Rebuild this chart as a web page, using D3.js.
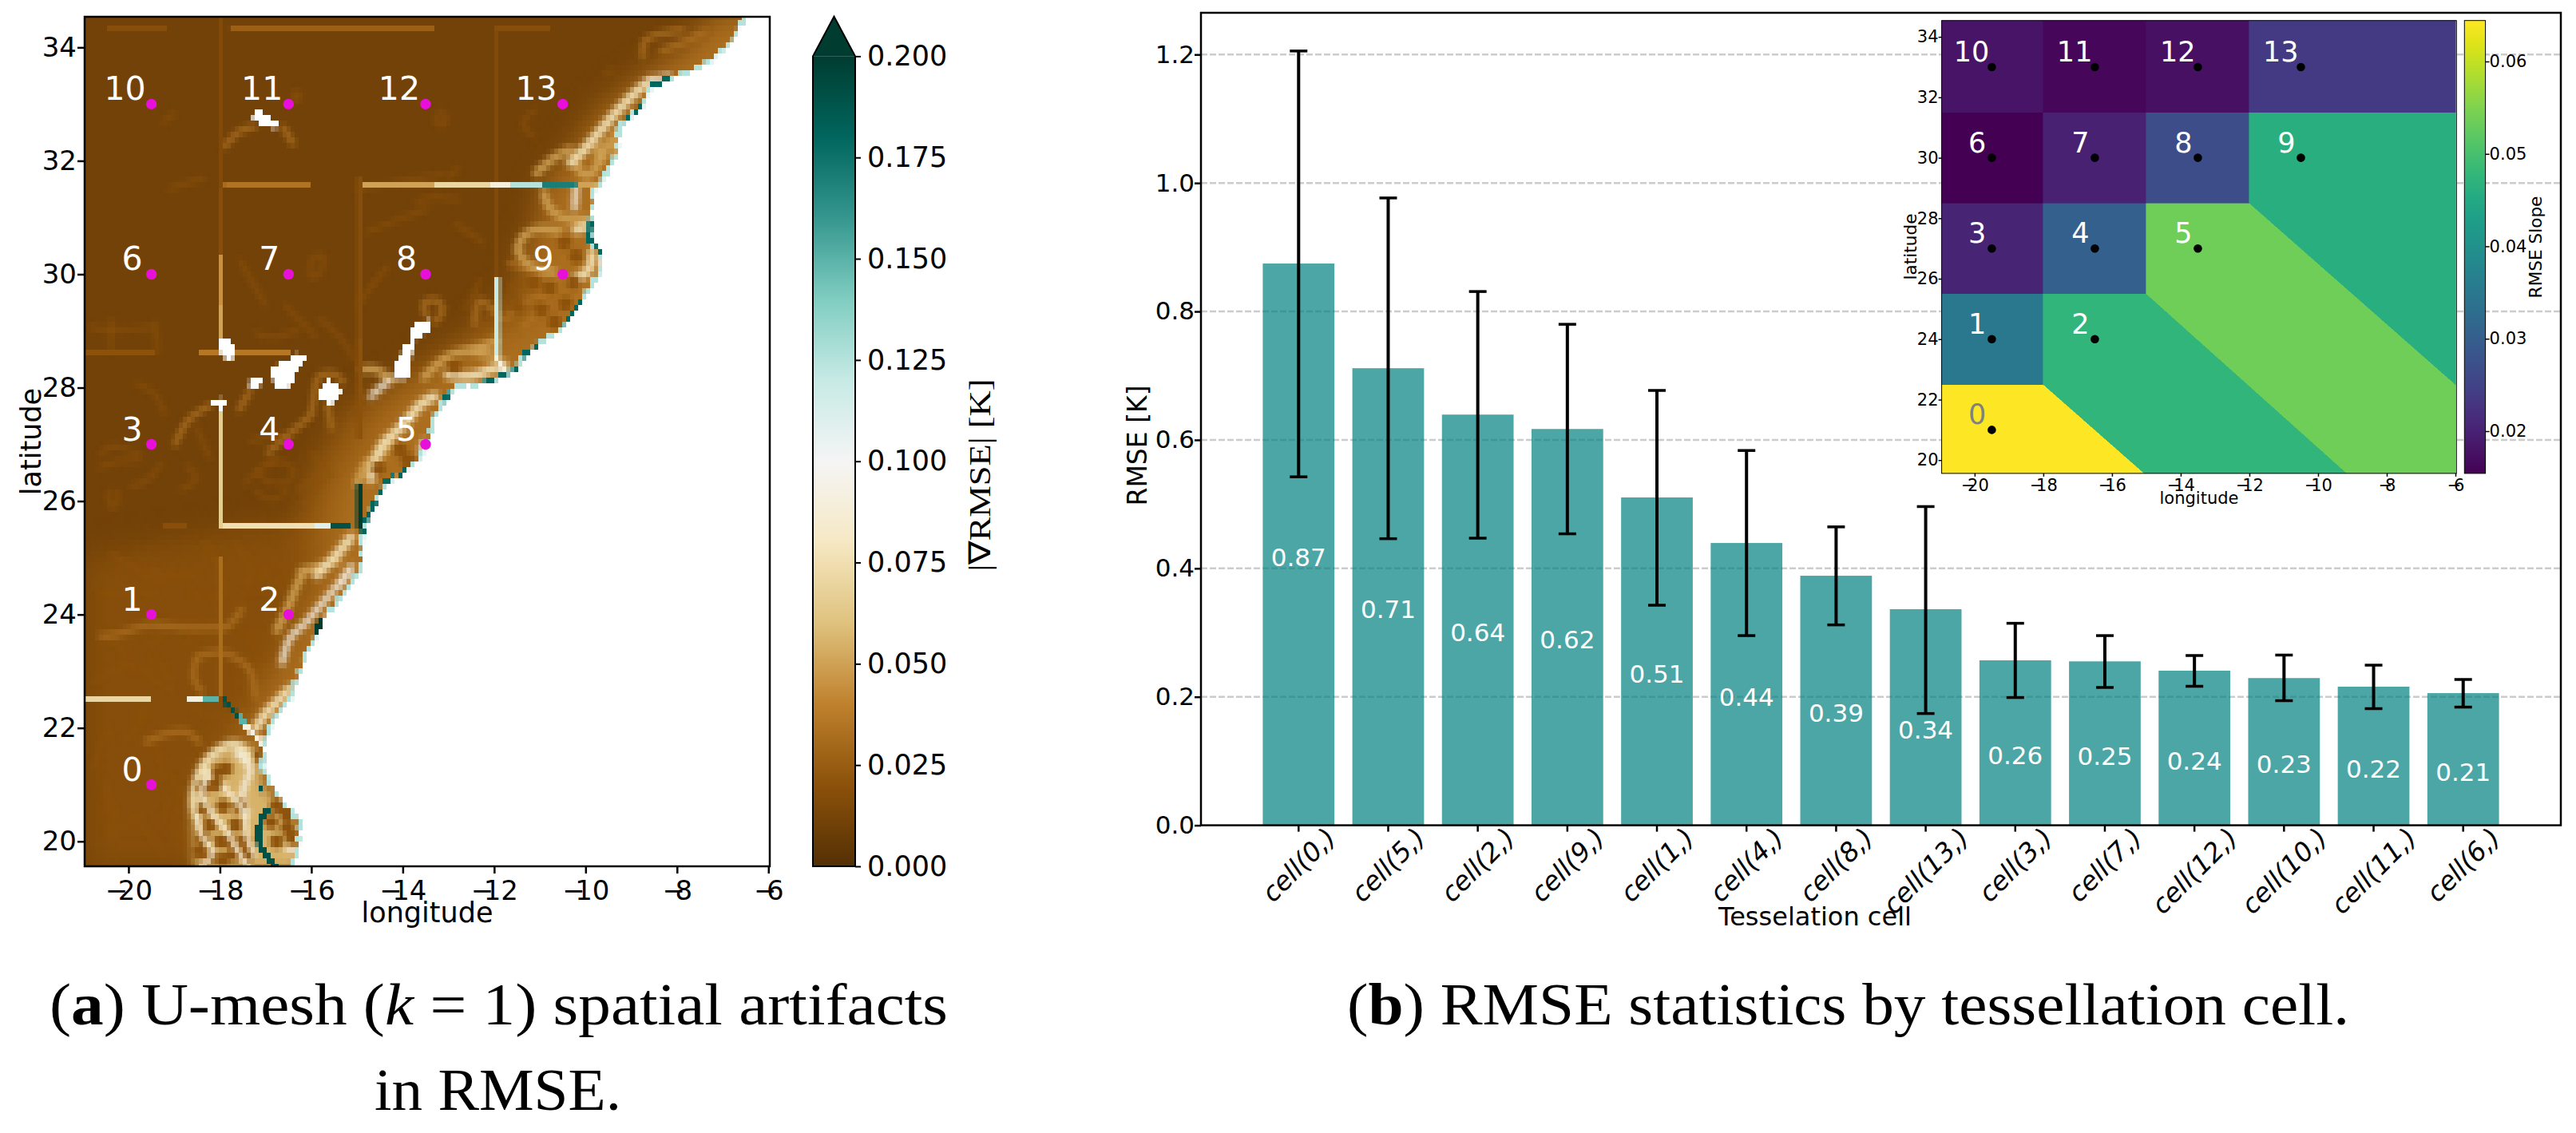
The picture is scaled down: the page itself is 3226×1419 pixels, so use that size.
<!DOCTYPE html>
<html>
<head>
<meta charset="utf-8">
<script src="https://cdn.jsdelivr.net/npm/d3@7"></script>
<style>
  body { margin: 0; background: white; }
  text { font-family: "DejaVu Sans"; fill: black; }
  .caption { font-family: "Liberation Serif"; font-size: 74px; }
</style>
</head>
<body>
<svg id="chart" width="3226" height="1419"></svg>
<script>
// ---- panel (b) values
const cell_order = [0, 5, 2, 9, 1, 4, 8, 13, 3, 7, 12, 10, 11, 6]
const rmse_values = [0.8746, 0.7116, 0.6394, 0.617, 0.5104, 0.4395, 0.3885, 0.3364, 0.2568, 0.2552, 0.2407, 0.2292, 0.2158, 0.2058]
const rmse_labels = ["0.87", "0.71", "0.64", "0.62", "0.51", "0.44", "0.39", "0.34", "0.26", "0.25", "0.24", "0.23", "0.22", "0.21"]
const err_high = [1.2055, 0.9767, 0.831, 0.78, 0.677, 0.5835, 0.4646, 0.4962, 0.3145, 0.2953, 0.2643, 0.265, 0.2493, 0.227]
const err_low = [0.5425, 0.4462, 0.447, 0.4538, 0.3426, 0.2953, 0.312, 0.174, 0.1989, 0.2146, 0.2164, 0.194, 0.1816, 0.184]
const rmse_ticks = [0, 0.2, 0.4, 0.6, 0.8, 1.0, 1.2]

// ---- tessellation cell centres (lon, lat), index = cell id
const cell_lon = [-19.5, -19.5, -16.5, -19.5, -16.5, -13.5, -19.5, -16.5, -13.5, -10.5, -19.5, -16.5, -13.5, -10.5]
const cell_lat = [21, 24, 24, 27, 27, 27, 30, 30, 30, 30, 33, 33, 33, 33]
const lon_ticks = [-20, -18, -16, -14, -12, -10, -8, -6]
const lat_ticks = [20, 22, 24, 26, 28, 30, 32, 34]

// ---- inset: RMSE slope per cell and the cell outlines
const cell_slope = [0.0644, 0.0351, 0.0474, 0.0204, 0.0302, 0.0537, 0.0155, 0.0199, 0.0268, 0.0463, 0.018, 0.0162, 0.0175, 0.0238]
const cell_shapes = [
  [[-21, 19.5], [-21, 22.5], [-18, 22.5], [-15, 19.5]],
  [[-21, 22.5], [-21, 25.5], [-18, 25.5], [-18, 22.5]],
  [[-18, 22.5], [-18, 25.5], [-15, 25.5], [-9.1, 19.5], [-15, 19.5]],
  [[-21, 25.5], [-21, 28.5], [-18, 28.5], [-18, 25.5]],
  [[-18, 25.5], [-18, 28.5], [-15, 28.5], [-15, 25.5]],
  [[-15, 25.5], [-15, 28.5], [-12, 28.5], [-6, 22.5], [-6, 19.5], [-9.1, 19.5]],
  [[-21, 28.5], [-21, 31.5], [-18, 31.5], [-18, 28.5]],
  [[-18, 28.5], [-18, 31.5], [-15, 31.5], [-15, 28.5]],
  [[-15, 28.5], [-15, 31.5], [-12, 31.5], [-12, 28.5]],
  [[-12, 28.5], [-12, 31.5], [-6, 31.5], [-6, 22.5]],
  [[-21, 31.5], [-21, 34.6], [-18, 34.6], [-18, 31.5]],
  [[-18, 31.5], [-18, 34.6], [-15, 34.6], [-15, 31.5]],
  [[-15, 31.5], [-15, 34.6], [-12, 34.6], [-12, 31.5]],
  [[-12, 31.5], [-12, 34.6], [-6, 34.6], [-6, 31.5]]
]

// ---- panel (a) colour bar
const grad_ticks = [0, 0.025, 0.05, 0.075, 0.1, 0.125, 0.15, 0.175, 0.2]
const brbg_stops = ["#543005", "#8c510a", "#bf812d", "#dfc27d", "#f6e8c3", "#f5f5f5", "#c7eae5", "#80cdc1", "#35978f", "#01665e", "#003c30"]
const brbg_values = [0, 0.02, 0.04, 0.06, 0.08, 0.1, 0.12, 0.14, 0.16, 0.18, 0.2]
const slope_ticks = [0.02, 0.03, 0.04, 0.05, 0.06]

const background_value = 0.011
const coast_line = [[-6.5, 34.55], [-6.76, 34.17], [-7.0, 33.94], [-7.52, 33.63], [-8.17, 33.47], [-8.58, 33.3], [-8.75, 33.0], [-9.28, 32.6], [-9.31, 32.15], [-9.68, 31.59], [-9.83, 31.45], [-9.89, 30.98], [-9.92, 30.6], [-9.66, 30.37], [-9.71, 30.04], [-10.09, 29.55], [-10.5, 29.07], [-11.03, 28.79], [-11.38, 28.55], [-11.49, 28.37], [-11.79, 28.23], [-12.2, 28.09], [-12.9, 27.99], [-13.13, 27.76], [-13.3, 27.52], [-13.42, 27.15], [-13.6, 26.82], [-13.89, 26.56], [-14.35, 26.35], [-14.59, 26.02], [-14.82, 25.64], [-14.89, 25.41], [-14.91, 24.85], [-15.24, 24.42], [-15.59, 24.09], [-15.77, 23.93], [-16.0, 23.48], [-16.18, 23.18], [-16.35, 22.83], [-16.47, 22.5], [-16.76, 22.26], [-16.93, 21.98], [-17.02, 21.75], [-17.08, 21.28], [-16.93, 21.04], [-16.61, 20.67], [-16.26, 20.34], [-16.29, 19.92], [-16.41, 19.5]]
const land_corners = [[-5.9, 19.5], [-5.9, 34.6], [-6.5, 34.6]]
const coast_dark = [
  [[-13.89, 26.56], [-14.35, 26.35], [-14.59, 26.02], [-14.82, 25.64], [-14.89, 25.41]],
  [[-9.89, 30.98], [-9.92, 30.6], [-9.66, 30.37]],
  [[-12.2, 28.09], [-11.79, 28.23], [-11.49, 28.37]],
  [[-11.38, 28.55], [-11.03, 28.79]],
  [[-8.58, 33.3], [-8.17, 33.47]],
  [[-8.75, 33.0], [-9.28, 32.6]],
  [[-10.09, 29.55], [-10.5, 29.07]],
  [[-13.13, 27.76], [-12.9, 27.99]]
]

const zone_values = [0.018, 0.024, 0.032]
const zone_shapes = [
  [[-21, 19.5], [-21, 25], [-17, 25.6], [-15, 25.6], [-15, 24], [-17, 21], [-16.4, 19.5]],
  [[-18.6, 19.5], [-18.4, 21], [-17.9, 21.8], [-17.2, 22.6], [-16.7, 23.5], [-16.0, 24.6], [-16.3, 25.4], [-16, 26.5], [-15.2, 27.6], [-13.6, 28.4], [-12.6, 28.9], [-11.6, 29.6], [-11.4, 30.4], [-11.0, 31.0], [-11.0, 31.55], [-10.4, 32.1], [-9.8, 32.9], [-8.8, 33.5], [-7.8, 34.0], [-7.2, 34.6], [-5.9, 34.6], [-5.9, 19.5]],
  [[-17.6, 21.7], [-17.0, 22.6], [-16.5, 23.3], [-16.0, 24.3], [-15.6, 25.0], [-15.6, 25.6], [-15.3, 26.4], [-14.8, 27.0], [-14.3, 27.7], [-13.6, 28.1], [-12.9, 28.5], [-12.0, 28.85], [-11.2, 29.2], [-10.9, 29.6], [-11.2, 30.4], [-10.9, 30.9], [-10.9, 31.5], [-10.4, 31.9], [-9.9, 32.4], [-9.3, 33.0], [-8.6, 33.5], [-7.9, 33.9], [-7.1, 34.6], [-5.9, 34.6], [-5.9, 21.7]]
]
const mesh_value = 0.055
const mesh_zone = [[-18.55, 19.5], [-18.6, 20.6], [-18.4, 21.3], [-18.0, 21.6], [-17.5, 21.7], [-17.1, 21.6], [-17.07, 21.0], [-16.3, 20.3], [-16.3, 19.5]]

const veins_faint = [
  [[-20.5, 20.53], [-20.44, 20.76], [-20.5, 21.09]],
  [[-19.56, 23.48], [-19.33, 23.58], [-19.21, 23.86]],
  [[-20.79, 22.78], [-20.38, 23.01], [-19.85, 23.11]],
  [[-19.85, 22.22], [-19.56, 22.31], [-20.09, 21.79]],
  [[-19.15, 22.87], [-19.27, 23.11], [-19.5, 23.2]],
  [[-20.38, 20.06], [-20.09, 20.29], [-19.68, 20.48]],
  [[-19.1, 21.14], [-18.86, 20.85], [-18.98, 20.48], [-18.86, 19.92]],
  [[-18.63, 24.38], [-18.22, 24.28], [-17.93, 24.42]],
  [[-20.61, 24.33], [-20.09, 24.42], [-19.33, 24.38]],
  [[-19.56, 24.8], [-18.92, 24.66], [-18.45, 24.8]],
  [[-17.34, 24.52], [-17.11, 24.7], [-16.76, 24.89]],
  [[-17.46, 23.67], [-17.23, 23.39], [-17.34, 23.11]],
  [[-16.88, 25.03], [-16.53, 24.75], [-16.76, 24.52]],
  [[-17.69, 25.27], [-17.34, 24.8], [-17.46, 24.33]],
  [[-20.61, 26.82], [-20.38, 26.96], [-19.74, 26.82]],
  [[-18.86, 26.2], [-18.51, 26.39], [-18.74, 26.63]],
  [[-17.23, 26.2], [-16.88, 26.02], [-16.53, 26.2]],
  [[-16.18, 25.93], [-15.88, 26.2], [-15.6, 26.49]],
  [[-16.0, 26.86], [-15.53, 26.44]],
  [[-17.17, 26.49], [-16.88, 26.72], [-16.41, 26.58], [-16.5, 26.35], [-16.9, 26.33], [-17.17, 26.49]],
  [[-20.44, 26.2], [-20.38, 25.88], [-20.23, 25.97], [-20.26, 26.2]],
  [[-16.0, 30.28], [-15.75, 30.33], [-15.85, 29.98], [-16.0, 29.95], [-16.0, 30.28]],
  [[-16.4, 33.2], [-16.25, 33.2], [-16.35, 33.02], [-16.4, 33.2]],
  [[-15.0, 31.5], [-13.1, 31.76]],
  [[-13.44, 31.17], [-14.78, 30.74]],
  [[-15, 29.45], [-14.33, 30.15]],
  [[-18.35, 31.7], [-19.13, 31.5]],
  [[-19.0, 32.84], [-19.25, 32.68]],
  [[-16.57, 29.45], [-15.9, 28.9]],
  [[-17.57, 30.26], [-17.0, 29.45]],
  [[-12.43, 29.63], [-12.31, 29.92]],
  [[-20.38, 21.98], [-20.61, 21.7], [-20.73, 21.28]],
  [[-19.39, 21.7], [-19.27, 21.32], [-19.45, 20.9]],
  [[-20.55, 20.85], [-20.32, 20.53], [-20.44, 20.15]],
  [[-19.8, 20.29], [-19.45, 20.06], [-19.21, 19.68]],
  [[-19.1, 20.76], [-19.27, 20.29]],
  [[-18.63, 22.36], [-18.22, 22.22], [-17.81, 22.17]],
  [[-19.62, 23.06], [-19.33, 22.78], [-19.04, 22.69]],
  [[-20.38, 23.53], [-20.09, 23.34], [-19.85, 23.01]],
  [[-18.74, 23.48], [-18.51, 23.67], [-18.1, 23.53]],
  [[-17.34, 23.77], [-16.99, 23.58], [-16.88, 23.25]],
  [[-17.69, 22.97], [-17.46, 22.64], [-17.4, 22.36]],
  [[-17.17, 24.42], [-16.76, 24.38]],
  [[-20.85, 29.07], [-20.38, 29.02], [-19.45, 29.07]],
  [[-20.38, 29.21], [-20.38, 28.65]],
  [[-19.42, 29.16], [-19.36, 28.6]],
  [[-19.85, 28.08], [-19.44, 27.9], [-19.21, 27.52]],
  [[-20.67, 26.58], [-20.32, 26.68], [-19.74, 26.72]],
  [[-19.97, 26.25], [-19.56, 26.39], [-19.27, 26.68]],
  [[-18.51, 27.3], [-18.22, 26.77]],
  [[-17.34, 27.05], [-16.88, 27.15], [-16.53, 27.15]],
  [[-17.46, 26.3], [-17.11, 26.58], [-16.76, 26.68]],
  [[-16.29, 26.2], [-15.82, 26.49]],
  [[-17.23, 28.98], [-16.88, 28.88], [-16.29, 29.02]],
  [[-15.82, 29.21], [-15.36, 28.88], [-15.07, 28.51]],
  [[-20.38, 25.08], [-19.8, 24.8], [-19.21, 24.52]],
  [[-18.34, 25.27], [-18.04, 24.89], [-17.87, 24.42]],
  [[-17.17, 24.8], [-16.88, 24.61], [-16.47, 24.7]],
  [[-13.19, 32.86], [-13.3, 32.72], [-13.13, 32.62], [-13.04, 32.77], [-13.19, 32.86]],
  [[-13.01, 31.69], [-12.78, 31.87]],
  [[-11.09, 32.9], [-11.38, 32.67], [-11.14, 32.44]],
  [[-9.6, 33.52], [-9.39, 33.61]],
  [[-13.71, 31.26], [-13.36, 31.36], [-12.78, 31.31]],
  [[-12.84, 30.89], [-12.25, 30.56]],
  [[-12.37, 29.76], [-12.66, 29.38]],
  [[-11.96, 29.24], [-11.73, 29.57], [-11.55, 29.9]]
]
const veins_mid = [
  [[-20.61, 23.62], [-20.26, 23.65], [-19.56, 23.81], [-18.8, 23.77], [-18.04, 23.77], [-17.87, 23.77], [-17.52, 24.09]],
  [[-18.51, 23.25], [-18.04, 23.34], [-17.69, 23.25], [-17.34, 23.01], [-17.23, 22.55]],
  [[-18.51, 23.25], [-18.57, 22.87], [-18.39, 22.64]],
  [[-19.62, 21.75], [-19.21, 21.89], [-18.74, 21.93], [-18.45, 21.75]],
  [[-15.65, 27.71], [-15.56, 27.29]],
  [[-18.98, 27.0], [-18.69, 27.43], [-18.22, 27.69]],
  [[-16.94, 26.86], [-16.47, 27.19], [-16.0, 27.52]],
  [[-17.9, 32.25], [-17.57, 32.52], [-17.24, 32.6]],
  [[-16.62, 32.6], [-16.4, 32.3]],
  [[-13.48, 29.26], [-13.54, 29.49], [-13.25, 29.54], [-13.13, 29.35], [-13.3, 29.16]],
  [[-17.58, 27.62], [-17.34, 27.94]],
  [[-16.0, 27.52], [-15.94, 27.85], [-15.85, 28.18], [-15.53, 28.25], [-15.3, 28.1]],
  [[-10.04, 29.76], [-10.39, 29.38], [-10.79, 29.0]],
  [[-8.34, 33.94], [-7.88, 34.08], [-7.41, 34.27]],
  [[-8.75, 33.84], [-8.69, 34.13], [-7.88, 34.31]],
  [[-11.38, 29.07], [-11.03, 29.35], [-10.8, 29.68]],
  [[-11.73, 29.21], [-11.38, 29.49], [-10.91, 29.63]],
  [[-11.67, 30.2], [-11.2, 30.06], [-10.56, 29.82]],
  [[-11.85, 29.21], [-12.31, 29.54], [-12.43, 29.12]]
]
const ridges = [
  [[-16.24, 24.75], [-15.83, 24.85], [-15.42, 24.94]],
  [[-16.76, 23.72], [-16.53, 24.09], [-16.29, 24.56], [-16.12, 24.8]],
  [[-13.54, 28.18], [-13.01, 28.55], [-12.37, 28.7], [-11.96, 28.81]],
  [[-12.55, 28.65], [-11.96, 28.55]],
  [[-14.88, 28.32], [-14.59, 28.32], [-14.24, 28.13]],
  [[-11.08, 31.78], [-10.68, 32.06], [-10.33, 32.2]],
  [[-9.98, 32.2], [-10.21, 31.97], [-9.98, 31.73], [-9.74, 31.92], [-9.74, 32.25]],
  [[-9.51, 32.34], [-9.63, 32.02]],
  [[-9.34, 32.48], [-9.34, 32.15]],
  [[-10.91, 31.45], [-10.79, 31.17], [-10.44, 30.98], [-9.98, 30.98]],
  [[-11.49, 30.42], [-11.38, 30.65], [-11.08, 30.79], [-10.56, 30.75]],
  [[-11.49, 30.42], [-11.26, 30.18], [-10.68, 30.04]],
  [[-15.0, 26.3], [-14.78, 26.68], [-14.48, 26.82], [-14.22, 27.05]]
]
const ridges_bright = [
  [[-17.23, 21.98], [-16.99, 22.26], [-16.7, 22.5], [-16.47, 22.69]],
  [[-15.88, 24.7], [-15.53, 24.98], [-15.13, 25.36]],
  [[-13.01, 28.23], [-12.54, 28.2], [-12.08, 28.32], [-11.79, 28.41]],
  [[-14.7, 26.39], [-14.47, 26.96], [-14.0, 27.33], [-13.6, 27.71], [-13.3, 27.85]],
  [[-10.33, 31.97], [-10.09, 32.15], [-9.68, 32.53], [-9.28, 32.9], [-8.87, 33.23], [-8.58, 33.42]],
  [[-10.21, 30.79], [-9.98, 30.84]],
  [[-9.86, 30.37], [-9.92, 30.09], [-10.27, 29.9]],
  [[-18.51, 20.48], [-18.57, 20.76], [-18.39, 21.28], [-18.04, 21.6], [-17.63, 21.7], [-17.34, 21.47]],
  [[-18.28, 21.23], [-17.93, 20.95]]
]
const ridges_pale = [
  [[-16.64, 23.15], [-16.47, 23.58], [-16.12, 23.86], [-15.77, 24.19], [-15.42, 24.52], [-15.12, 24.85]],
  [[-17.63, 21.56], [-17.34, 21.28], [-17.46, 20.99], [-17.52, 20.76], [-17.4, 20.48]],
  [[-15.13, 24.8], [-15.36, 24.52]],
  [[-14.7, 27.85], [-14.3, 28.13]],
  [[-13.54, 27.05], [-13.6, 26.86]],
  [[-8.58, 33.42], [-8.17, 33.49]],
  [[-10.21, 31.54], [-10.24, 31.17]],
  [[-16.29, 19.82], [-16.53, 19.87]]
]
const mesh_cells = [[-18.1, 21.0], [-17.93, 20.62], [-17.66, 20.29], [-18.34, 20.57], [-17.99, 20.0], [-18.39, 20.06], [-17.46, 20.0], [-18.22, 19.73], [-17.69, 19.77], [-16.88, 20.34], [-16.53, 20.24], [-16.76, 20.62], [-16.76, 20.0], [-17.11, 21.51], [-17.87, 21.28], [-17.58, 20.62], [-18.22, 20.29], [-17.78, 20.0], [-18.45, 19.82], [-17.93, 19.68], [-17.4, 19.77], [-16.53, 20.48], [-16.41, 20.06], [-18.04, 21.23], [-18.37, 20.95], [-10.21, 30.32], [-10.47, 30.56], [-10.27, 29.86], [-10.79, 29.76], [-11.14, 29.86], [-11.49, 29.43], [-10.97, 29.38], [-10.68, 29.15], [-10.44, 29.48], [-14.06, 26.91], [-13.89, 26.72], [-14.53, 26.58], [-12.87, 28.37]]
const mesh_ridges = [
  [[-18.51, 20.48], [-18.4, 20.1], [-18.16, 19.82], [-18.45, 19.5]],
  [[-18.22, 21.23], [-18.4, 20.85], [-18.16, 20.48], [-17.87, 20.2], [-17.64, 19.87], [-17.34, 19.5]],
  [[-17.93, 20.95], [-17.69, 20.76], [-17.46, 20.48], [-17.4, 20.06], [-17.23, 19.73]]
]

// straight artifacts at the cell borders: value, then the two ends
const artifact_values = [0.07, 0.09, 0.15, 0.19, 0.15, 0.09, 0.05, 0.045, 0.018, 0.016, 0.065, 0.075, 0.11, 0.19, 0.2, 0.02, 0.02, 0.036, 0.019, 0.12, 0.09, 0.016, 0.034, 0.05, 0.07, 0.09, 0.125, 0.17, 0.05, 0.018, 0.026, 0.018, 0.018, 0.032]
const artifact_ends = [
  [[-20.96, 22.55], [-19.5, 22.55]], [[-18.75, 22.55], [-18.35, 22.55]], [[-18.35, 22.55], [-18.0, 22.55]],
  [[-17.93, 22.52], [-17.6, 22.2]], [[-17.6, 22.2], [-17.46, 22.07]], [[-17.46, 22.07], [-17.05, 21.7]],
  [[-17.97, 29.5], [-17.97, 28.9]], [[-17.97, 30.34], [-17.97, 29.5]], [[-17.97, 31.55], [-17.97, 30.34]], [[-17.97, 34.54], [-17.97, 31.55]],
  [[-17.97, 27.57], [-17.97, 25.55]], [[-17.97, 25.55], [-15.94, 25.55]], [[-15.94, 25.55], [-15.59, 25.55]], [[-15.59, 25.55], [-15.13, 25.55]],
  [[-14.95, 26.3], [-14.95, 25.55]], [[-14.95, 28.88], [-14.95, 27.05]],
  [[-20.96, 28.58], [-19.4, 28.58]], [[-18.45, 28.58], [-16.47, 28.58]], [[-19.27, 25.55], [-18.75, 25.55]],
  [[-11.93, 29.96], [-11.93, 28.55]], [[-11.96, 28.55], [-11.76, 28.27]], [[-11.95, 34.35], [-11.95, 29.96]],
  [[-17.9, 31.55], [-16.0, 31.55]], [[-14.95, 31.55], [-13.3, 31.55]], [[-13.3, 31.55], [-12.1, 31.55]], [[-12.1, 31.55], [-11.65, 31.55]],
  [[-11.65, 31.55], [-10.97, 31.55]], [[-10.97, 31.55], [-10.2, 31.55]], [[-10.2, 31.55], [-9.75, 31.55]],
  [[-20.47, 34.35], [-19.13, 34.35]], [[-17.8, 34.35], [-13.3, 34.35]], [[-12.0, 34.35], [-10.8, 34.35]],
  [[-14.95, 31.76], [-14.95, 28.9]], [[-18.0, 24.99], [-18.0, 22.55]]
]
const dark_shapes = [
  [[-15.94, 23.86], [-15.74, 23.95], [-15.77, 23.77], [-15.97, 23.51]]
]
const dark_lines = [
  [[-16.93, 20.57], [-17.11, 20.34], [-17.14, 20.0], [-17.0, 19.77], [-16.76, 19.5]],
  [[-17.08, 20.99], [-17.14, 20.85]]
]
// places where the field is off the colour scale
const blobs = [
  [[-18.02, 28.79], [-17.9, 28.86], [-17.75, 28.79], [-17.7, 28.6], [-17.78, 28.46], [-17.87, 28.53], [-17.98, 28.65]],
  [[-16.88, 28.37], [-16.53, 28.44], [-16.35, 28.6], [-16.12, 28.55], [-16.29, 28.37], [-16.41, 28.13], [-16.59, 27.97], [-16.76, 28.04], [-16.88, 28.23]],
  [[-17.37, 28.09], [-17.24, 28.2], [-17.1, 28.11], [-17.17, 27.97], [-17.31, 27.97]],
  [[-15.85, 27.92], [-15.62, 28.13], [-15.36, 27.97], [-15.45, 27.8], [-15.62, 27.71], [-15.8, 27.83]],
  [[-18.17, 27.72], [-18.02, 27.77], [-17.97, 27.81], [-17.88, 27.72], [-17.96, 27.62], [-18.02, 27.66]],
  [[-13.83, 29.02], [-13.65, 29.14], [-13.45, 29.19], [-13.39, 29.02], [-13.6, 28.91], [-13.77, 28.81]],
  [[-13.92, 28.77], [-13.8, 28.77], [-13.83, 28.41], [-13.92, 28.15], [-14.21, 28.15], [-14.15, 28.41]],
  [[-17.29, 32.8], [-17.15, 32.87], [-16.95, 32.76], [-16.75, 32.7], [-16.78, 32.58], [-17.0, 32.6], [-17.2, 32.7]]
]

// ---- layout boxes
const map_box = { left: 106, right: 964, top: 21, bottom: 1085 }
const grad_box = { left: 1018, right: 1071, top: 70.4, bottom: 1085, tip: 20.7 }
const bar_box = { left: 1504, right: 3207, top: 16, bottom: 1033.6 }
const inset_box = { left: 2431.6, right: 3076.3, top: 25.7, bottom: 592.9 }
const slope_box = { left: 3086.3, right: 3112.6, top: 25.7, bottom: 592.9 }

const svg = d3.select("#chart")
const defs = svg.append("defs")

function add_blur(id, amount) {
  defs.append("filter").attr("id", id)
    .attr("filterUnits", "userSpaceOnUse")
    .attr("color-interpolation-filters", "sRGB")
    .attr("x", 0).attr("y", 0).attr("width", 1100).attr("height", 1200)
    .append("feGaussianBlur").attr("stdDeviation", amount)
}
add_blur("blur_zone", 18)
add_blur("blur_mesh", 7)
add_blur("blur_ridge", 3.5)
add_blur("blur_cell", 2.5)

// turns the drawn field into grid boxes, as the model output is gridded
function add_grid_filter() {
  const filter = defs.append("filter").attr("id", "grid_boxes")
    .attr("filterUnits", "userSpaceOnUse")
    .attr("color-interpolation-filters", "sRGB")
    .attr("x", map_box.left - 6).attr("y", map_box.top - 7)
    .attr("width", map_box.right - map_box.left + 12).attr("height", map_box.bottom - map_box.top + 14)
  filter.append("feFlood").attr("x", map_box.left).attr("y", map_box.top)
    .attr("width", 1).attr("height", 1).attr("flood-color", "black")
  filter.append("feComposite").attr("width", 5).attr("height", 7)
  filter.append("feTile").attr("result", "dots")
  filter.append("feComposite").attr("in", "SourceGraphic").attr("in2", "dots").attr("operator", "in")
  filter.append("feMorphology").attr("operator", "dilate").attr("radius", "2 3")
}
add_grid_filter()

function style_axis(g, font_size, stroke_width) {
  g.selectAll("text").style("font-size", font_size + "px").style("fill", "black")
  g.selectAll("line").attr("stroke-width", stroke_width).attr("stroke", "black")
  g.select(".domain").remove()
}

// minus sign sits tight against the digits in the reference
function tighten_minus(g, shift) {
  g.selectAll("text").each(function () {
    const label = d3.select(this)
    const value = label.text()
    label.text(null)
    label.append("tspan").text(value.slice(0, 1))
    label.append("tspan").attr("dx", shift + "em").text(value.slice(1))
  })
}

function frame(g, box, width) {
  g.append("rect")
    .attr("x", box.left).attr("y", box.top)
    .attr("width", box.right - box.left).attr("height", box.bottom - box.top)
    .attr("fill", "none").attr("stroke", "black").attr("stroke-width", width)
}

function rotated_label(g, text, x, y, size) {
  return g.append("text").attr("transform", `translate(${x},${y}) rotate(-90)`)
    .attr("text-anchor", "middle").style("font-size", size + "px").text(text)
}

// ---- panel (a)
function draw_map() {
  const x = d3.scaleLinear().domain([-20.96, -5.97]).range([map_box.left, map_box.right])
  const y = d3.scaleLinear().domain([19.56, 34.54]).range([map_box.bottom, map_box.top])
  const color = d3.scaleLinear().domain(brbg_values).range(brbg_stops)
  const to_xy = d => [x(d[0]), y(d[1])]
  const straight = d3.line().x(d => x(d[0])).y(d => y(d[1]))
  const smooth = d3.line().x(d => x(d[0])).y(d => y(d[1])).curve(d3.curveCatmullRom)

  defs.append("clipPath").attr("id", "map_clip").append("rect")
    .attr("x", map_box.left).attr("y", map_box.top)
    .attr("width", map_box.right - map_box.left).attr("height", map_box.bottom - map_box.top)

  const clipped = svg.append("g").attr("clip-path", "url(#map_clip)")
  const field = clipped.append("g").attr("filter", "url(#grid_boxes)")
  field.append("rect")
    .attr("x", map_box.left - 6).attr("y", map_box.top - 7)
    .attr("width", map_box.right - map_box.left + 12).attr("height", map_box.bottom - map_box.top + 14)
    .attr("fill", color(background_value))

  const zones = field.append("g").attr("filter", "url(#blur_zone)")
  zones.selectAll("path").data(zone_shapes).join("path")
    .attr("d", d => straight(d) + "Z")
    .attr("fill", (d, i) => color(zone_values[i]))

  field.append("path").attr("filter", "url(#blur_mesh)")
    .attr("d", straight(mesh_zone) + "Z")
    .attr("fill", color(mesh_value))

  // ridges from faint to bright, each class has one value and width
  const ridge_layers = [
    { lines: veins_faint, value: 0.02, width: 4 },
    { lines: veins_mid, value: 0.034, width: 6 },
    { lines: ridges, value: 0.05, width: 9 },
    { lines: ridges_bright, value: 0.075, width: 11 },
    { lines: ridges_pale, value: 0.095, width: 7 }
  ]
  const ridge_group = field.append("g").attr("filter", "url(#blur_ridge)")
  for (const layer of ridge_layers) {
    ridge_group.append("g").selectAll("path").data(layer.lines).join("path")
      .attr("d", d => smooth(d))
      .attr("fill", "none")
      .attr("stroke", color(layer.value))
      .attr("stroke-width", layer.width)
      .attr("stroke-linecap", "round")
  }

  field.append("g").attr("filter", "url(#blur_cell)")
    .selectAll("circle").data(mesh_cells).join("circle")
    .attr("cx", d => x(d[0])).attr("cy", d => y(d[1])).attr("r", 9)
    .attr("fill", color(0.02))

  field.append("g").attr("filter", "url(#blur_cell)")
    .selectAll("path").data(mesh_ridges).join("path")
    .attr("d", d => smooth(d)).attr("fill", "none")
    .attr("stroke", color(0.085)).attr("stroke-width", 6)

  field.append("path")
    .attr("d", straight(coast_line.concat(land_corners)) + "Z")
    .attr("fill", "white")

  field.append("g").selectAll("path").data(artifact_ends).join("path")
    .attr("d", d => straight(d))
    .attr("stroke", (d, i) => color(artifact_values[i]))
    .attr("stroke-width", 7)

  field.append("path").attr("d", straight(coast_line))
    .attr("fill", "none").attr("stroke", color(0.125)).attr("stroke-width", 6)
    .attr("stroke-dasharray", "12 5")
  field.append("g").selectAll("path").data(coast_dark).join("path")
    .attr("d", d => straight(d)).attr("fill", "none")
    .attr("stroke", color(0.18)).attr("stroke-width", 6)
    .attr("stroke-dasharray", "14 5")

  field.append("g").selectAll("path").data(dark_shapes).join("path")
    .attr("d", d => straight(d) + "Z").attr("fill", color(0.2))
  field.append("g").selectAll("path").data(dark_lines).join("path")
    .attr("d", d => smooth(d)).attr("fill", "none").attr("stroke", color(0.19)).attr("stroke-width", 8)

  field.append("g").selectAll("polygon").data(blobs).join("polygon")
    .attr("points", d => d.map(to_xy).join(" "))
    .attr("fill", "white").attr("stroke", "white").attr("stroke-width", 3).attr("stroke-linejoin", "round")

  // cell markers
  const ids = d3.range(cell_lon.length)
  svg.append("g").selectAll("circle").data(ids).join("circle")
    .attr("cx", i => x(cell_lon[i])).attr("cy", i => y(cell_lat[i])).attr("r", 6.7)
    .attr("fill", "#e80fdb")
  svg.append("g").selectAll("text").data(ids).join("text")
    .attr("x", i => x(cell_lon[i]) - (i > 9 ? 7 : 11))
    .attr("y", i => y(cell_lat[i]) - 5)
    .attr("text-anchor", "end")
    .style("font-size", "41px").style("fill", "white")
    .text(i => i)

  frame(svg, map_box, 2.5)

  svg.append("g").attr("transform", `translate(0,${map_box.bottom})`)
    .call(d3.axisBottom(x).tickValues(lon_ticks).tickSize(9).tickPadding(9).tickFormat(d => "\u2212" + Math.abs(d)))
    .call(style_axis, 34, 2.5)
    .call(tighten_minus, -0.37)
  svg.append("g").attr("transform", `translate(${map_box.left},0)`)
    .call(d3.axisLeft(y).tickValues(lat_ticks).tickSize(9).tickPadding(1))
    .call(style_axis, 34, 2.5)

  svg.append("text").attr("x", 535).attr("y", 1155).attr("text-anchor", "middle")
    .style("font-size", "35px").text("longitude")
  rotated_label(svg, "latitude", 51, 553, 35)
}

function draw_map_colorbar() {
  const scale = d3.scaleLinear().domain([0, 0.2]).range([grad_box.bottom, grad_box.top])
  const gradient = defs.append("linearGradient").attr("id", "brbg_gradient")
    .attr("x1", 0).attr("x2", 0).attr("y1", 1).attr("y2", 0)
  gradient.selectAll("stop").data(brbg_stops).join("stop")
    .attr("offset", (d, i) => brbg_values[i] / 0.2)
    .attr("stop-color", d => d)

  svg.append("rect")
    .attr("x", grad_box.left).attr("y", grad_box.top)
    .attr("width", grad_box.right - grad_box.left).attr("height", grad_box.bottom - grad_box.top)
    .attr("fill", "url(#brbg_gradient)")
  const middle = (grad_box.left + grad_box.right) / 2
  svg.append("polygon")
    .attr("points", [[grad_box.left, grad_box.top], [middle, grad_box.tip], [grad_box.right, grad_box.top]].join(" "))
    .attr("fill", brbg_stops[10])
  svg.append("path")
    .attr("d", `M${grad_box.left},${grad_box.bottom}V${grad_box.top}L${middle},${grad_box.tip}L${grad_box.right},${grad_box.top}V${grad_box.bottom}Z`)
    .attr("fill", "none").attr("stroke", "black").attr("stroke-width", 2)

  svg.append("g").attr("transform", `translate(${grad_box.right},0)`)
    .call(d3.axisRight(scale).tickValues(grad_ticks).tickSize(7).tickPadding(8).tickFormat(d3.format(".3f")))
    .call(style_axis, 35, 2)

  rotated_label(svg, "|\u2207RMSE| [K]", 1240, 595, 38)
    .style("font-family", "Liberation Serif")
    .attr("textLength", 241).attr("lengthAdjust", "spacingAndGlyphs")
}

// ---- panel (b)
function draw_bars() {
  const labels = cell_order.map(c => `cell(${c},)`)
  const x = d3.scaleBand().domain(labels).range([bar_box.left, bar_box.right]).paddingInner(0.2).paddingOuter(0.69)
  const y = d3.scaleLinear().domain([0, 1.265]).range([bar_box.bottom, bar_box.top])
  const center = i => x(labels[i]) + x.bandwidth() / 2
  const ids = d3.range(labels.length)

  svg.append("g").selectAll("line").data(rmse_ticks.slice(1)).join("line")
    .attr("x1", bar_box.left).attr("x2", bar_box.right)
    .attr("y1", d => y(d)).attr("y2", d => y(d))
    .attr("stroke", "#cccccc").attr("stroke-width", 2.5).attr("stroke-dasharray", "8 3")

  svg.append("g").selectAll("rect").data(ids).join("rect")
    .attr("x", i => x(labels[i])).attr("width", x.bandwidth())
    .attr("y", i => y(rmse_values[i])).attr("height", i => y(0) - y(rmse_values[i]))
    .attr("fill", "teal").attr("fill-opacity", 0.7)

  const errors = svg.append("g").attr("stroke", "black")
  errors.selectAll(".stem").data(ids).join("line").attr("class", "stem")
    .attr("x1", center).attr("x2", center)
    .attr("y1", i => y(err_low[i])).attr("y2", i => y(err_high[i]))
    .attr("stroke-width", 4)
  for (const ends of [err_low, err_high]) {
    errors.append("g").selectAll("line").data(ids).join("line")
      .attr("x1", i => center(i) - 11).attr("x2", i => center(i) + 11)
      .attr("y1", i => y(ends[i])).attr("y2", i => y(ends[i]))
      .attr("stroke-width", 3.5)
  }

  svg.append("g").selectAll("text").data(ids).join("text")
    .attr("x", center).attr("y", i => y(rmse_values[i] / 2) + 27)
    .attr("text-anchor", "middle")
    .style("font-size", "31px").style("fill", "white")
    .text(i => rmse_labels[i])

  frame(svg, bar_box, 2.5)

  svg.append("g").attr("transform", `translate(${bar_box.left},0)`)
    .call(d3.axisLeft(y).tickValues(rmse_ticks).tickSize(8).tickPadding(0).tickFormat(d3.format(".1f")))
    .call(style_axis, 31, 2.5)

  const x_axis = svg.append("g").attr("transform", `translate(0,${bar_box.bottom})`)
    .call(d3.axisBottom(x).tickSize(8))
    .call(style_axis, 33, 2.5)
  x_axis.selectAll("text")
    .attr("y", 0).attr("dy", "0.35em")
    .attr("text-anchor", "middle")
    .style("font-style", "italic")
    .attr("transform", function () {
      const drop = 2.4 + (this.getComputedTextLength() + 20) * 0.3535
      return `translate(0,${drop}) rotate(-45)`
    })

  svg.append("text").attr("x", 2273).attr("y", 1158.7).attr("text-anchor", "middle")
    .style("font-size", "32px").text("Tesselation cell")
  rotated_label(svg, "RMSE [K]", 1436, 558, 33)
}

// ---- inset of panel (b)
function draw_inset() {
  const x = d3.scaleLinear().domain([-20.96, -5.97]).range([inset_box.left, inset_box.right])
  const y = d3.scaleLinear().domain([19.56, 34.54]).range([inset_box.bottom, inset_box.top])
  const slope = d3.scaleLinear().domain([0.01543, 0.06443]).range([0, 1])
  const outline = d3.line().x(d => x(d[0])).y(d => y(d[1]))
  const ids = d3.range(cell_slope.length)

  defs.append("clipPath").attr("id", "inset_clip").append("rect")
    .attr("x", inset_box.left).attr("y", inset_box.top)
    .attr("width", inset_box.right - inset_box.left).attr("height", inset_box.bottom - inset_box.top)

  svg.append("g").attr("clip-path", "url(#inset_clip)")
    .selectAll("path").data(ids).join("path")
    .attr("d", i => outline(cell_shapes[i]) + "Z")
    .attr("fill", i => d3.interpolateViridis(slope(cell_slope[i])))
    .attr("stroke", i => d3.interpolateViridis(slope(cell_slope[i])))
    .attr("stroke-width", 0.6)
    .attr("shape-rendering", "crispEdges")

  svg.append("g").selectAll("circle").data(ids).join("circle")
    .attr("cx", i => x(cell_lon[i])).attr("cy", i => y(cell_lat[i])).attr("r", 5.3)
    .attr("fill", "black")
  svg.append("g").selectAll("text").data(ids).join("text")
    .attr("x", i => x(cell_lon[i]) - (i > 9 ? 3 : 7))
    .attr("y", i => y(cell_lat[i]) - 7)
    .attr("text-anchor", "end")
    .style("font-size", "35px")
    .style("fill", i => i == 0 ? "gray" : "white")
    .text(i => i)

  frame(svg, inset_box, 1)

  svg.append("g").attr("transform", `translate(0,${inset_box.bottom})`)
    .call(d3.axisBottom(x).tickValues(lon_ticks).tickSize(4).tickPadding(3).tickFormat(d => "\u2212" + Math.abs(d)))
    .call(style_axis, 21, 1.5)
    .call(tighten_minus, -0.45)
  svg.append("g").attr("transform", `translate(${inset_box.left},0)`)
    .call(d3.axisLeft(y).tickValues(lat_ticks).tickSize(4).tickPadding(0))
    .call(style_axis, 21, 1.5)
  svg.append("text").attr("x", 2754).attr("y", 631).attr("text-anchor", "middle")
    .style("font-size", "21px").text("longitude")
  rotated_label(svg, "latitude", 2400, 309, 21.6)

  // colour bar of the inset
  const gradient = defs.append("linearGradient").attr("id", "slope_gradient")
    .attr("x1", 0).attr("x2", 0).attr("y1", 1).attr("y2", 0)
  gradient.selectAll("stop").data(d3.range(0, 21)).join("stop")
    .attr("offset", d => d / 20)
    .attr("stop-color", d => d3.interpolateViridis(d / 20))
  svg.append("rect")
    .attr("x", slope_box.left).attr("y", slope_box.top)
    .attr("width", slope_box.right - slope_box.left).attr("height", slope_box.bottom - slope_box.top)
    .attr("fill", "url(#slope_gradient)")
  frame(svg, slope_box, 1)
  const scale = d3.scaleLinear().domain([0.01543, 0.06443]).range([slope_box.bottom, slope_box.top])
  svg.append("g").attr("transform", `translate(${slope_box.right},0)`)
    .call(d3.axisRight(scale).tickValues(slope_ticks).tickSize(5).tickPadding(0).tickFormat(d3.format(".2f")))
    .call(style_axis, 21, 1.5)
  rotated_label(svg, "RMSE Slope", 3183, 309.5, 21.6)
}

function draw_captions() {
  const first = svg.append("text").attr("class", "caption").attr("x", 62).attr("y", 1283)
    .attr("textLength", 1125).attr("lengthAdjust", "spacingAndGlyphs")
  first.append("tspan").text("(")
  first.append("tspan").style("font-weight", "bold").text("a")
  first.append("tspan").text(") U-mesh (")
  first.append("tspan").style("font-style", "italic").text("k")
  first.append("tspan").text(" = 1) spatial artifacts")

  svg.append("text").attr("class", "caption").attr("x", 469).attr("y", 1390)
    .attr("textLength", 309).attr("lengthAdjust", "spacingAndGlyphs")
    .text("in RMSE.")

  const second = svg.append("text").attr("class", "caption").attr("x", 1687).attr("y", 1283)
    .attr("textLength", 1255).attr("lengthAdjust", "spacingAndGlyphs")
  second.append("tspan").text("(")
  second.append("tspan").style("font-weight", "bold").text("b")
  second.append("tspan").text(") RMSE statistics by tessellation cell.")
}

draw_map()
draw_map_colorbar()
draw_bars()
draw_inset()
draw_captions()
</script>
</body>
</html>
